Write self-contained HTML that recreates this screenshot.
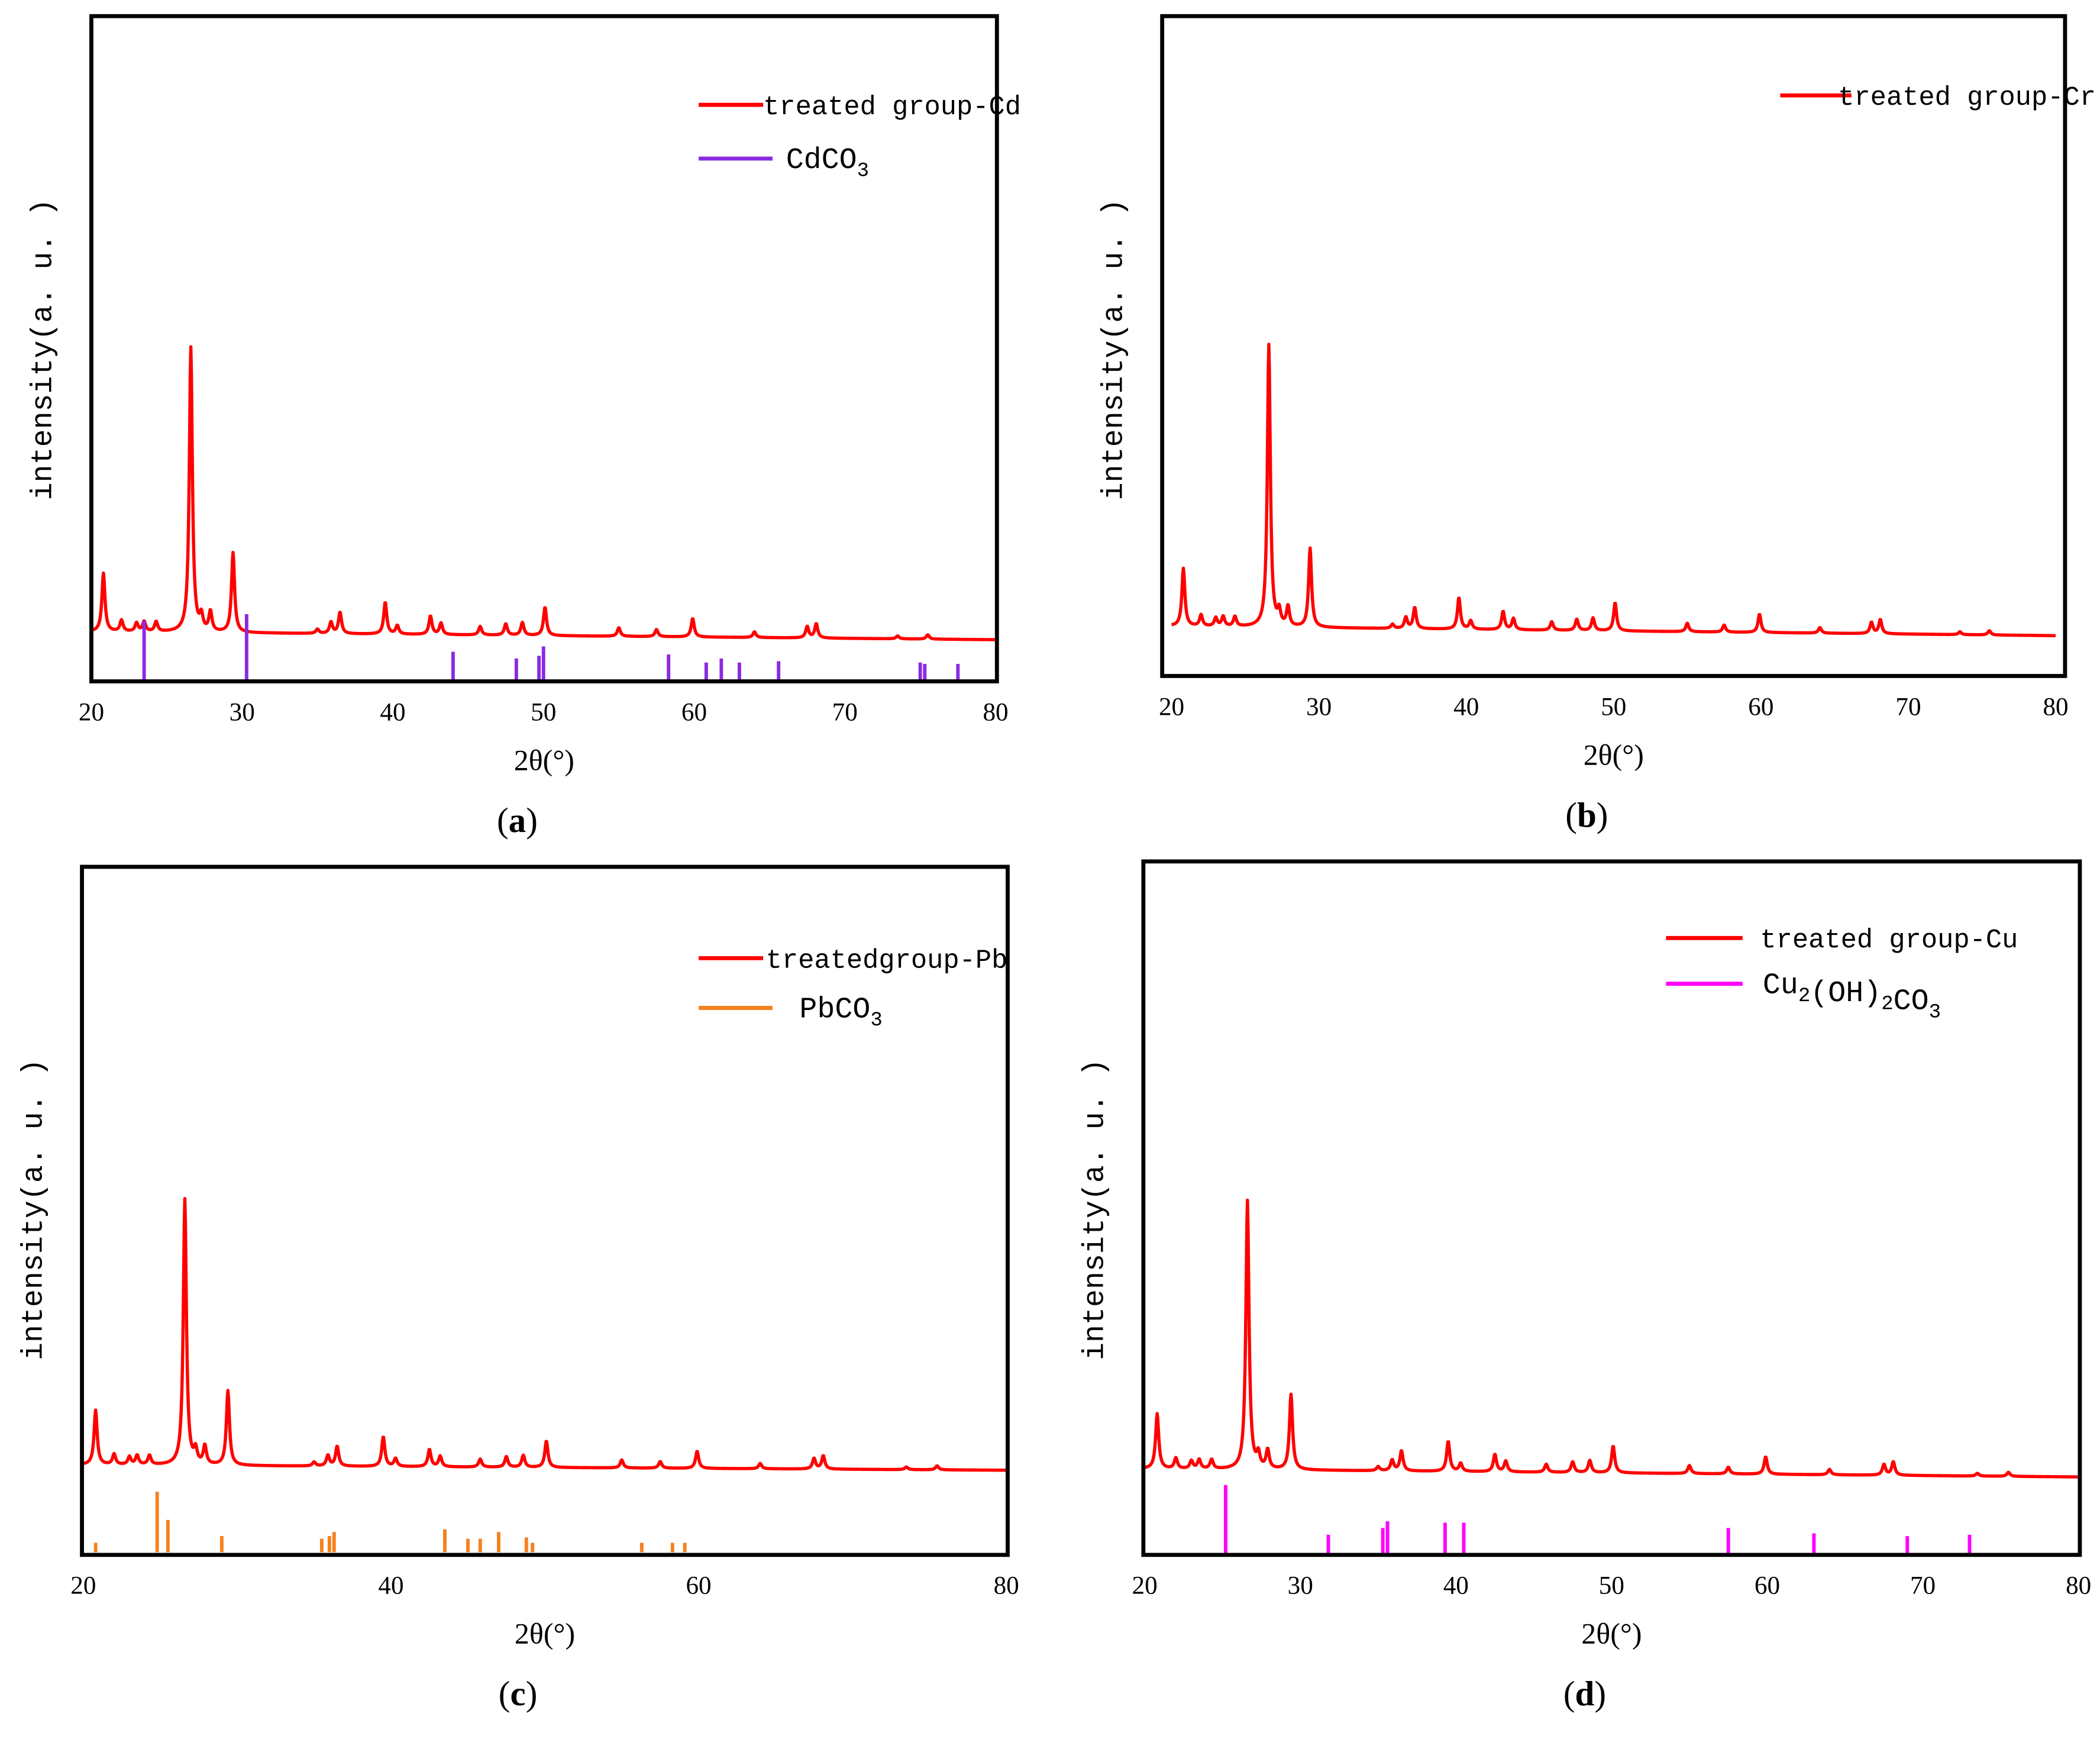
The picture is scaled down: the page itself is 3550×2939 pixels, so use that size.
<!DOCTYPE html>
<html><head><meta charset="utf-8"><style>
html,body{margin:0;padding:0;background:#fff}
svg{display:block}
text{font-family:"Liberation Serif","DejaVu Serif",serif}
.mono{font-family:"Liberation Mono","DejaVu Sans Mono",monospace}
</style></head><body>
<svg id="fig" width="3550" height="2939" viewBox="0 0 1563 1294" xmlns="http://www.w3.org/2000/svg"></svg>
<script>
// shared diffraction peaks (2θ, intensity a.u.)
const peakPos = [20.8,22.0,23.0,23.5,24.3,26.6,27.3,27.9,29.4,35.0,35.9,36.5,39.5,40.3,42.5,43.2,45.8,47.5,48.6,50.1,55.0,57.5,59.9,64.0,67.5,68.1,73.5,75.5];
const peakInt = [205,40,30,35,35,1000,50,70,280,15,40,75,112,30,65,40,30,40,45,100,30,25,65,20,40,50,10,15];
// reference stick patterns
const cdPos = [23.5,30.3,44.0,48.2,49.7,50.0,58.3,60.8,61.8,63.0,65.6,75.0,75.3,77.5];
const cdInt = [45,50,22,17,19,26,20,14,17,14,15,14,13,13];
const pbPos = [20.8,24.8,25.5,29.0,35.5,36.0,36.3,43.5,45.0,45.8,47.0,48.8,49.2,56.3,58.3,59.1];
const pbInt = [7,45,24,12,10,12,15,17,10,10,15,11,7,7,7,7];
const cuPos = [25.2,31.8,35.3,35.6,39.3,40.5,57.5,63.0,69.0,73.0];
const cuInt = [52,15,20,25,24,24,20,16,14,15];
const ticksA = [20,30,40,50,60,70,80];
const ticksC = [20,40,60,80];

const NS="http://www.w3.org/2000/svg";
const svg=document.getElementById('fig');
function mk(tag,attrs,parent){const e=document.createElementNS(NS,tag);for(const k in attrs)e.setAttribute(k,attrs[k]);(parent||svg).appendChild(e);return e;}

function panel(p){
  const g=mk('g',{});
  
  
  const xs=v=>p.x0+(v-20)/60*(p.x1-p.x0);
  const base=v=>p.b0+(v-20)/60*(p.b1-p.b0);
  const ys=(v,I)=>base(v)-I*(p.b0-p.top)/1000;
  let d='';
  for(let t=20;t<=80.001;t+=0.04){
    let I=0;
    for(let i=0;i<peakPos.length;i++){const w=0.12;const dx=(t-peakPos[i])/w;I+=peakInt[i]/(1+dx*dx);}
    d+=(d?'L':'M')+xs(t).toFixed(2)+','+ys(t,I).toFixed(2);
  }
  const line=mk('path',{d:d,fill:'none',stroke:'#f00','stroke-width':2.4,'stroke-linejoin':'round'},g);
  
  
  if(p.sPos){
    for(let i=0;i<p.sPos.length;i++){
      const s=mk('line',{x1:xs(p.sPos[i]),x2:xs(p.sPos[i]),y1:p.sBot,y2:p.sBot-p.sInt[i],stroke:p.sCol,'stroke-width':2.6},g);
      
      
    }
  }
  const f=mk('rect',{x:p.bx0,y:p.by0,width:p.bx1-p.bx0,height:p.by1-p.by0,fill:'none',stroke:'#000','stroke-width':3},g);
  
  
  for(const t of p.ticks){
    const tl=mk('text',{x:xs(t),y:p.by1+29,'font-size':19,'text-anchor':'middle'},g);tl.textContent=t;
    
    
  }
  const xt=mk('text',{x:(p.bx0+p.bx1)/2,y:p.by1+66,'font-size':22,'text-anchor':'middle'},g);xt.textContent='2θ(°)';
  
  
  const yt=mk('text',{x:0,y:0,'font-size':22,'text-anchor':'middle',class:'mono',transform:`translate(${p.bx0-30},${p.yMid}) rotate(-90)`},g);yt.textContent='intensity(a. u. )';
  
  
  const cap=mk('text',{x:(p.bx0+p.bx1)/2-20,y:p.by1+112,'font-size':26,'text-anchor':'middle'},g);
  cap.innerHTML='(<tspan font-weight="bold">'+p.id+'</tspan>)';
  
  
  const l1=mk('line',{x1:p.lx,x2:p.lx+p.lw,y1:p.ly1,y2:p.ly1,stroke:'#f00','stroke-width':3},g);
  
  
  const lt=mk('text',{x:p.ltx,y:p.ly1+7,'font-size':20,class:'mono'},g);lt.textContent=p.label;
  
  
  if(p.refLabel){
    const l2=mk('line',{x1:p.lx,x2:p.lx+p.lw2,y1:p.ly2,y2:p.ly2,stroke:p.sCol,'stroke-width':3},g);
    
    
    const rt=mk('text',{x:p.rtx,y:p.ly2+7,'font-size':22,class:'mono'},g);rt.innerHTML=p.refLabel;
    
    
  }
}
const sub=s=>'<tspan font-size="15" dy="6">'+s+'</tspan><tspan dy="-6"></tspan>';
panel({id:'a',bx0:68,bx1:742,by0:12,by1:507,x0:68,x1:741,b0:470,b1:476,top:258,ticks:ticksA,yMid:260,
  sPos:cdPos,sInt:cdInt,sBot:507,sCol:'#8a2be2',lx:520,lw:48,lw2:55,ly1:78,ly2:118,ltx:568,rtx:585,
  label:'treated group-Cd',refLabel:'CdCO'+sub('3')});
panel({id:'b',bx0:865,bx1:1537,by0:12,by1:503,x0:872,x1:1530,b0:466,b1:473,top:256,ticks:ticksA,yMid:260,
  lx:1325,lw:53,ly1:71,ltx:1368,label:'treated group-Cr'});
panel({id:'c',bx0:61,bx1:750,by0:645,by1:1157,x0:62,x1:749,b0:1090,b1:1094,top:892,ticks:ticksC,yMid:900,
  sPos:pbPos,sInt:pbInt,sBot:1155,sCol:'#f5801e',lx:520,lw:48,lw2:55,ly1:713,ly2:750,ltx:570,rtx:595,
  label:'treatedgroup-Pb',refLabel:'PbCO'+sub('3')});
panel({id:'d',bx0:851,bx1:1548,by0:641,by1:1157,x0:852,x1:1547,b0:1093,b1:1099,top:893,ticks:ticksA,yMid:900,
  sPos:cuPos,sInt:cuInt,sBot:1157,sCol:'#ff00ff',lx:1240,lw:57,lw2:57,ly1:698,ly2:732,ltx:1310,rtx:1312,
  label:'treated group-Cu',refLabel:'Cu'+sub('2')+'(OH)'+sub('2')+'CO'+sub('3')});
</script>
</body></html>
